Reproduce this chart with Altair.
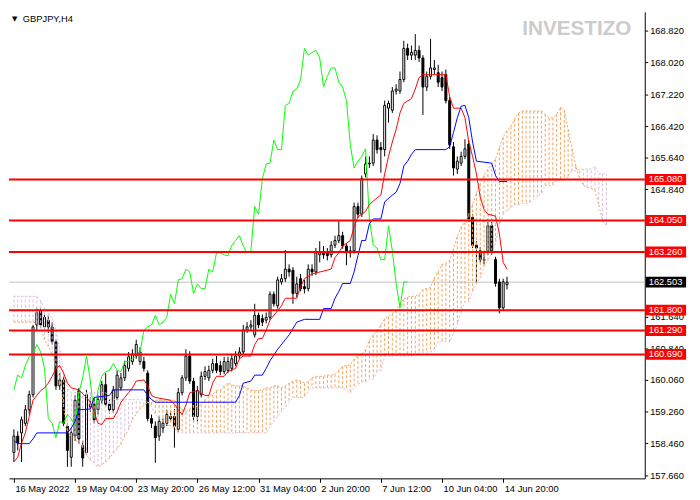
import altair as alt
import pandas as pd

W, H = 646, 474
FONT = "Liberation Sans"
X_DOMAIN = [0, 163.75]
Y_DOMAIN = [157.579, 169.287]

title_text = "GBPJPY,H4"
watermark = "INVESTIZO"

opens = [158.23, 158.64, 158.72, 158.96, 159.30, 159.68, 161.43, 161.79, 161.38, 161.55,
         161.38, 161.01, 159.90, 160.05, 158.89, 158.11, 158.64, 159.78, 158.40, 158.23,
         159.37, 159.44, 159.30, 159.54, 159.93, 159.44, 159.30, 159.61, 159.85, 160.10,
         160.34, 160.51, 160.65, 160.51, 160.51, 160.22, 159.08, 158.89, 158.64, 158.84,
         158.96, 159.13, 159.13, 158.81, 159.73, 160.10, 160.65, 160.02, 159.13, 159.68,
         160.14, 160.10, 160.29, 160.46, 160.41, 160.26, 160.29, 160.34, 160.46, 160.65,
         160.75, 161.30, 161.38, 161.18, 161.67, 161.59, 161.55, 161.62, 162.20, 161.91,
         162.51, 162.59, 162.83, 162.80, 162.22, 162.59, 162.39, 162.34, 162.83, 162.76,
         163.19, 163.24, 163.24, 163.19, 163.43, 163.55, 163.67, 163.41, 163.24, 163.29,
         164.40, 164.21, 165.22, 165.47, 165.49, 166.07, 165.88, 165.83, 166.87, 166.82,
         167.30, 167.30, 167.59, 168.37, 168.20, 168.20, 168.32, 168.13, 167.40, 167.67,
         167.84, 167.76, 167.64, 167.71, 167.06, 165.90, 165.34, 165.49, 165.66, 165.97,
         164.13, 163.43, 163.29, 163.05, 163.29, 163.92, 163.07, 162.51, 161.86, 162.44]
highs = [158.81, 158.76, 159.13, 159.42, 159.78, 161.43, 161.84, 161.84, 161.72, 161.67,
         161.50, 161.06, 160.22, 160.14, 158.96, 158.84, 159.66, 159.85, 158.52, 159.80,
         159.61, 159.61, 159.68, 160.02, 160.22, 159.56, 159.90, 160.29, 160.22, 160.53,
         160.75, 160.82, 161.06, 160.87, 160.63, 160.29, 159.18, 159.01, 159.13, 159.08,
         159.30, 159.25, 159.32, 159.85, 160.17, 160.82, 160.77, 160.10, 159.90, 160.26,
         160.39, 160.41, 160.58, 160.65, 160.53, 160.63, 160.63, 160.70, 160.77, 160.87,
         161.43, 161.50, 161.55, 161.96, 161.74, 161.69, 161.74, 162.27, 162.27, 162.64,
         162.71, 163.31, 162.95, 162.88, 162.64, 162.71, 162.56, 162.95, 162.95, 163.36,
         163.53, 163.41, 163.36, 163.53, 163.67, 164.04, 163.77, 163.48, 163.41, 164.50,
         164.50, 165.18, 165.66, 165.66, 166.22, 166.19, 166.02, 167.06, 167.06, 167.40,
         167.47, 167.79, 168.56, 168.49, 168.44, 168.73, 168.44, 168.20, 167.79, 168.61,
         168.08, 167.96, 167.79, 167.84, 167.16, 166.02, 165.66, 165.78, 166.09, 166.07,
         164.21, 163.53, 163.38, 163.24, 164.01, 164.01, 163.14, 162.59, 162.59, 162.64]
lows = [157.99, 158.28, 157.99, 158.89, 159.18, 159.61, 161.30, 161.35, 161.30, 161.23,
        160.94, 159.80, 159.80, 158.89, 157.87, 157.87, 158.52, 158.45, 157.87, 158.16,
        159.25, 158.96, 159.18, 159.44, 159.37, 159.20, 159.22, 159.54, 159.78, 160.02,
        160.26, 160.43, 160.58, 160.43, 160.26, 159.01, 158.84, 157.97, 158.52, 158.72,
        158.89, 159.01, 158.35, 158.74, 159.66, 160.02, 159.95, 159.01, 159.01, 159.61,
        160.05, 160.02, 160.22, 160.22, 160.17, 160.19, 160.22, 160.26, 160.39, 160.58,
        160.68, 161.23, 161.30, 161.11, 161.35, 161.40, 161.47, 161.55, 161.89, 161.84,
        162.44, 162.51, 162.64, 161.96, 162.13, 162.27, 162.22, 162.27, 162.66, 162.68,
        163.00, 163.09, 163.05, 163.12, 163.36, 163.48, 163.34, 162.93, 163.12, 163.22,
        164.11, 164.14, 165.13, 165.37, 165.42, 165.73, 165.25, 165.66, 166.51, 166.75,
        167.21, 167.23, 167.52, 168.08, 168.08, 168.08, 168.03, 166.70, 167.30, 167.59,
        167.72, 167.40, 167.30, 166.99, 165.85, 165.18, 165.22, 165.42, 165.59, 164.01,
        163.36, 162.47, 163.00, 162.95, 163.19, 163.19, 162.39, 161.72, 161.79, 162.32]
closes = [158.64, 158.47, 159.05, 159.30, 159.68, 161.38, 161.74, 161.43, 161.62, 161.38,
          161.01, 159.90, 160.05, 158.96, 158.28, 158.72, 159.54, 158.57, 158.09, 159.68,
          159.44, 159.05, 159.56, 159.93, 159.44, 159.30, 159.80, 160.17, 160.10, 160.41,
          160.63, 160.70, 160.94, 160.75, 160.34, 159.08, 158.96, 158.60, 159.01, 158.96,
          159.18, 159.08, 158.89, 159.73, 160.10, 160.65, 160.02, 159.13, 159.78, 160.14,
          160.26, 160.29, 160.46, 160.29, 160.26, 160.51, 160.51, 160.58, 160.65, 160.75,
          161.30, 161.38, 161.43, 161.67, 161.43, 161.50, 161.62, 162.20, 161.96, 162.56,
          162.59, 162.83, 162.76, 162.22, 162.46, 162.34, 162.34, 162.83, 162.76, 163.24,
          163.24, 163.19, 163.17, 163.43, 163.55, 163.67, 163.41, 163.24, 163.29, 164.40,
          164.21, 165.10, 165.47, 165.49, 166.07, 165.83, 165.83, 166.94, 166.99, 167.30,
          167.35, 167.59, 168.37, 168.20, 168.27, 168.32, 168.13, 167.40, 167.67, 167.88,
          167.88, 167.52, 167.40, 167.06, 165.95, 165.37, 165.54, 165.66, 165.85, 164.09,
          163.43, 163.36, 163.07, 163.07, 163.92, 163.29, 162.47, 161.86, 162.51, 162.503]

# Ichimoku Tenkan-sen (red) and Kijun-sen (blue): (bar, price) points
tenkan = [(0, 157.99), (1, 158.11), (2, 158.47), (3, 158.72), (4, 159.13), (5, 159.54), (6, 159.66),
          (7, 159.78), (8, 159.85), (9, 159.97), (10, 160.14), (11, 160.34), (12, 160.41), (13, 160.22),
          (14, 159.97), (15, 159.85), (17, 159.80), (19, 159.61), (20, 159.49), (21, 159.25), (22, 158.96),
          (23, 158.93), (24, 159.08), (26, 159.08), (27, 159.25), (28, 159.49), (29, 159.61), (30, 159.73),
          (31, 159.85), (32, 160.02), (34, 160.05), (35, 159.90), (36, 159.66), (37, 159.61), (41, 159.54),
          (42, 159.44), (43, 159.30), (44, 159.18), (45, 159.42), (46, 159.73), (48, 159.78), (50, 159.66),
          (51, 159.66), (52, 159.97), (53, 160.14), (55, 160.14), (56, 160.26), (58, 160.34), (59, 160.58),
          (60, 160.65), (62, 160.65), (63, 160.94), (64, 161.09), (65, 161.09), (66, 161.30), (67, 161.55),
          (69, 161.79), (70, 161.91), (71, 162.10), (74, 162.10), (75, 162.39), (76, 162.59), (78, 162.71),
          (83, 162.83), (84, 163.12), (85, 163.24), (86, 163.41), (88, 163.55), (89, 163.89), (90, 164.14),
          (92, 164.28), (93, 164.45), (95, 164.62), (96, 164.69), (97, 165.22), (98, 165.66), (99, 166.02),
          (100, 166.34), (101, 166.75), (102, 166.99), (104, 167.11), (105, 167.35), (106, 167.64),
          (107, 167.71), (113, 167.71), (114, 167.16), (115, 166.87), (117, 166.87), (118, 166.63),
          (119, 166.02), (120, 165.66), (121, 165.22), (122, 164.64), (123, 164.33), (124, 164.21),
          (126, 164.16), (127, 163.72), (128, 163.00), (129, 162.83)]
kijun = [(0, 158.52), (1, 158.45), (4, 158.45), (5, 158.57), (6, 158.72), (14, 158.72), (15, 158.84),
         (16, 159.01), (17, 159.30), (20, 159.32), (21, 159.61), (25, 159.66), (26, 159.80), (34, 159.80),
         (35, 159.66), (36, 159.56), (37, 159.49), (58, 159.49), (59, 159.66), (60, 159.97), (62, 160.02),
         (63, 160.17), (65, 160.17), (66, 160.34), (67, 160.53), (69, 160.82), (71, 161.06), (72, 161.18),
         (74, 161.50), (76, 161.57), (80, 161.57), (81, 161.84), (83, 161.84), (84, 162.10), (85, 162.27),
         (86, 162.47), (88, 162.47), (89, 162.76), (90, 163.17), (91, 163.55), (92, 163.55), (93, 163.97),
         (94, 164.09), (96, 164.09), (97, 164.52), (99, 164.69), (100, 164.76), (101, 164.98), (102, 165.42),
         (103, 165.54), (104, 165.71), (105, 165.83), (113, 165.83), (114, 165.90), (115, 166.26),
         (116, 166.63), (117, 166.92), (118, 166.94), (119, 166.63), (120, 166.02), (121, 165.54),
         (125, 165.49), (126, 165.18), (127, 165.03), (129, 165.03)]

# Senkou span A and B, one value per bar (0..155)
span_a = [161.50, 161.50, 161.50, 161.50, 161.50, 161.50, 161.47, 161.35, 161.06, 160.89,
          160.70, 160.39, 160.10, 159.37, 158.76, 158.64, 158.57, 158.47, 158.35, 158.16,
          158.04, 157.97, 157.87, 157.92, 157.99, 158.09, 158.21, 158.33, 158.43, 158.64,
          158.81, 159.05, 159.20, 159.32, 159.42, 159.47, 159.49, 159.54, 159.54, 159.54,
          159.54, 159.54, 159.54, 159.42, 159.32, 159.25, 159.32, 159.42, 159.37, 159.44,
          159.54, 159.66, 159.68, 159.78, 159.80, 159.90, 159.97, 159.93, 159.90, 159.90,
          159.90, 159.85, 159.80, 159.78, 159.78, 159.80, 159.85, 159.85, 159.90, 159.90,
          159.85, 159.90, 159.97, 160.02, 160.05, 160.02, 159.97, 160.02, 160.10, 160.14,
          160.14, 160.14, 160.17, 160.17, 160.19, 160.29, 160.39, 160.41, 160.43, 160.58,
          160.65, 160.68, 160.82, 161.04, 161.18, 161.30, 161.43, 161.59, 161.64, 161.72,
          161.79, 161.98, 162.08, 162.13, 162.15, 162.15, 162.20, 162.32, 162.34, 162.37,
          162.61, 162.76, 162.95, 162.97, 163.05, 163.34, 163.65, 163.89, 164.01, 164.21,
          164.45, 164.74, 164.98, 165.18, 165.34, 165.47, 165.59, 165.88, 166.14, 166.31,
          166.41, 166.60, 166.75, 166.80, 166.80, 166.80, 166.80, 166.80, 166.80, 166.72,
          166.63, 166.63, 166.72, 166.89, 166.82, 166.34, 165.85, 165.42, 165.10, 164.93,
          164.88, 164.86, 164.81, 164.45, 164.04, 163.94]
span_b = [162.15, 162.15, 162.15, 162.15, 162.15, 162.15, 162.15, 162.03, 161.86, 161.74,
          161.59, 161.30, 160.82, 160.22, 159.85, 159.73, 159.73, 159.73, 159.73, 159.73,
          159.73, 159.73, 159.73, 159.73, 159.73, 159.56, 159.56, 159.56, 159.56, 159.56,
          159.56, 159.56, 159.56, 159.56, 159.54, 159.51, 159.37, 159.18, 159.08, 159.01,
          158.93, 158.89, 158.84, 158.72, 158.72, 158.72, 158.72, 158.72, 158.72, 158.72,
          158.72, 158.72, 158.72, 158.72, 158.72, 158.72, 158.72, 158.72, 158.72, 158.72,
          158.72, 158.72, 158.72, 158.72, 158.72, 158.72, 158.72, 158.89, 159.01, 159.13,
          159.25, 159.37, 159.49, 159.61, 159.61, 159.61, 159.61, 159.78, 159.85, 159.85,
          159.85, 159.85, 159.85, 159.85, 159.85, 159.85, 159.85, 159.80, 159.73, 159.85,
          159.93, 160.00, 160.00, 160.07, 160.07, 160.26, 160.29, 160.65, 160.65, 160.65,
          160.65, 160.65, 160.65, 160.65, 160.65, 160.68, 160.75, 160.75, 160.75, 160.75,
          160.82, 161.01, 161.01, 161.01, 161.01, 161.23, 161.43, 161.76, 162.01, 162.01,
          162.27, 162.47, 162.61, 162.88, 163.05, 163.22, 163.48, 163.92, 164.21, 164.30,
          164.38, 164.45, 164.45, 164.47, 164.47, 164.50, 164.57, 164.67, 164.72, 164.93,
          164.93, 164.93, 165.05, 165.05, 165.10, 165.15, 165.30, 165.30, 165.34, 165.34,
          165.34, 165.34, 165.42, 165.22, 165.22, 165.22]

chikou_shift = 26
levels = [165.08, 164.05, 163.26, 161.80, 161.29, 160.69]
level_labels = ["165.080", "164.050", "163.260", "161.800", "161.290", "160.690"]
last_price = [162.503]
last_label = ["162.503"]
y_ticks = [168.82, 168.02, 167.22, 166.42, 165.64, 164.84, 161.64, 160.84, 160.06, 159.26, 158.46, 157.66]
x_tick_bars = [0, 16, 32, 48, 64, 80, 96, 112, 128]
x_tick_labels = ["16 May 2022", "19 May 04:00", "23 May 20:00", "26 May 12:00", "31 May 04:00",
                 "2 Jun 20:00", "7 Jun 12:00", "10 Jun 04:00", "14 Jun 20:00"]

SANDY = "#F4A460"
THISTLE = "#D8BFD8"

candles = pd.DataFrame({"bar": list(range(len(opens))), "open": opens, "high": highs,
                        "low": lows, "close": closes})
candles["body"] = ["white" if c >= o else "black" for o, c in zip(opens, closes)]

cloud = pd.DataFrame({"bar": list(range(len(span_a))), "a": span_a, "b": span_b})
cloud["hatch"] = [SANDY if a >= b else THISTLE for a, b in zip(span_a, span_b)]

tk = pd.DataFrame(tenkan, columns=["bar", "v"])
kj = pd.DataFrame(kijun, columns=["bar", "v"])
lv = pd.DataFrame({"level": levels, "label": level_labels})
lp = pd.DataFrame({"level": last_price, "label": last_label})

xs = alt.Scale(domain=X_DOMAIN, nice=False, zero=False)
ys = alt.Scale(domain=Y_DOMAIN, nice=False, zero=False)

label_expr = "[" + ",".join("'%s'" % t for t in x_tick_labels) + "][round(datum.value/16)]"
x_axis = alt.Axis(values=x_tick_bars, labelExpr=label_expr, labelAlign="left", labelOffset=1,
                  labelPadding=1, tickSize=4, tickColor="black", domainColor="black",
                  labelColor="black", labelFont=FONT, labelFontSize=9.5, grid=False, title=None,
                  labelOverlap=False, labelFlush=False, labelBound=False)
y_axis = alt.Axis(orient="right", values=y_ticks, format=".3f", labelPadding=2, tickSize=3,
                  tickColor="black", domainColor="black", labelColor="black", labelFont=FONT,
                  labelFontSize=9.5, grid=False, title=None, labelOverlap=False, labelFlush=False)


def X(f):
    return alt.X(f, type="quantitative", scale=xs, axis=x_axis)


def Y(f):
    return alt.Y(f, type="quantitative", scale=ys, axis=y_axis)


last_line = alt.Chart(lp).mark_rule(color="#C0C0C0", strokeWidth=1).encode(y=Y("level"))

wicks = alt.Chart(candles).mark_rule(color="black", strokeWidth=1, clip=True).encode(
    x=X("bar"), y=Y("low"), y2=alt.Y2("high"))
bodies = alt.Chart(candles).mark_bar(size=2, stroke="black", strokeWidth=1, clip=True).encode(
    x=X("bar"), y=Y("open"), y2=alt.Y2("close"), fill=alt.Fill("body:N", scale=None))

hatch = alt.Chart(cloud).mark_rule(strokeWidth=1, strokeDash=[3, 2], clip=True).encode(
    x=X("bar"), y=Y("a"), y2=alt.Y2("b"), color=alt.Color("hatch:N", scale=None))
line_a = alt.Chart(cloud).mark_line(color=SANDY, strokeWidth=1, strokeDash=[2, 2], clip=True).encode(
    x=X("bar"), y=Y("a"))
line_b = alt.Chart(cloud).mark_line(color=THISTLE, strokeWidth=1, strokeDash=[2, 2], clip=True).encode(
    x=X("bar"), y=Y("b"))

chikou = alt.Chart(candles).transform_calculate(
    cbar="datum.bar - %d" % chikou_shift
).transform_filter("datum.cbar >= 0").mark_line(color="#00FF00", strokeWidth=1, clip=True).encode(
    x=X("cbar"), y=Y("close"))
tenkan_line = alt.Chart(tk).mark_line(color="#FF0000", strokeWidth=1, clip=True).encode(x=X("bar"), y=Y("v"))
kijun_line = alt.Chart(kj).mark_line(color="#0000FF", strokeWidth=1, clip=True).encode(x=X("bar"), y=Y("v"))

level_lines = alt.Chart(lv).mark_rule(color="#FF0000", strokeWidth=2).encode(y=Y("level"))
level_boxes = alt.Chart(lv).mark_rule(color="#FF0000", strokeWidth=11).encode(
    x=alt.value(W + 1), x2=alt.value(W + 42), y=Y("level"))
level_text = alt.Chart(lv).mark_text(align="left", baseline="middle", color="white", font=FONT,
                                     fontSize=9.5).encode(x=alt.value(W + 4), y=Y("level"), text="label:N")
last_box = alt.Chart(lp).mark_rule(color="black", strokeWidth=11).encode(
    x=alt.value(W + 1), x2=alt.value(W + 42), y=Y("level"))
last_text = alt.Chart(lp).mark_text(align="left", baseline="middle", color="white", font=FONT,
                                    fontSize=9.5).encode(x=alt.value(W + 4), y=Y("level"), text="label:N")

tri = alt.Chart(pd.DataFrame({"t": ["\u25BC"]})).mark_text(
    align="left", baseline="middle", fontSize=7, color="black", font="DejaVu Sans").encode(
    x=alt.value(3), y=alt.value(7), text="t:N")
title = alt.Chart(pd.DataFrame({"t": [title_text]})).mark_text(
    align="left", baseline="middle", fontSize=9.5, color="black", font=FONT).encode(
    x=alt.value(14), y=alt.value(7), text="t:N")
wm = alt.Chart(pd.DataFrame({"t": [watermark]})).mark_text(
    align="center", baseline="middle", fontSize=21, fontWeight="bold", color="#cccccc", font=FONT).encode(
    x=alt.value(577), y=alt.value(17), text="t:N")

chart = alt.layer(
    wm, last_line, wicks, bodies, hatch, line_a, line_b, chikou, tenkan_line, kijun_line,
    level_lines, level_boxes, level_text, last_box, last_text, tri, title
).properties(
    width=W, height=H, padding={"left": 0, "top": 0, "right": 0, "bottom": 0}, background="white"
).configure_view(stroke=None)

chart.save("out.html", embed_options={"renderer": "svg", "actions": False})
